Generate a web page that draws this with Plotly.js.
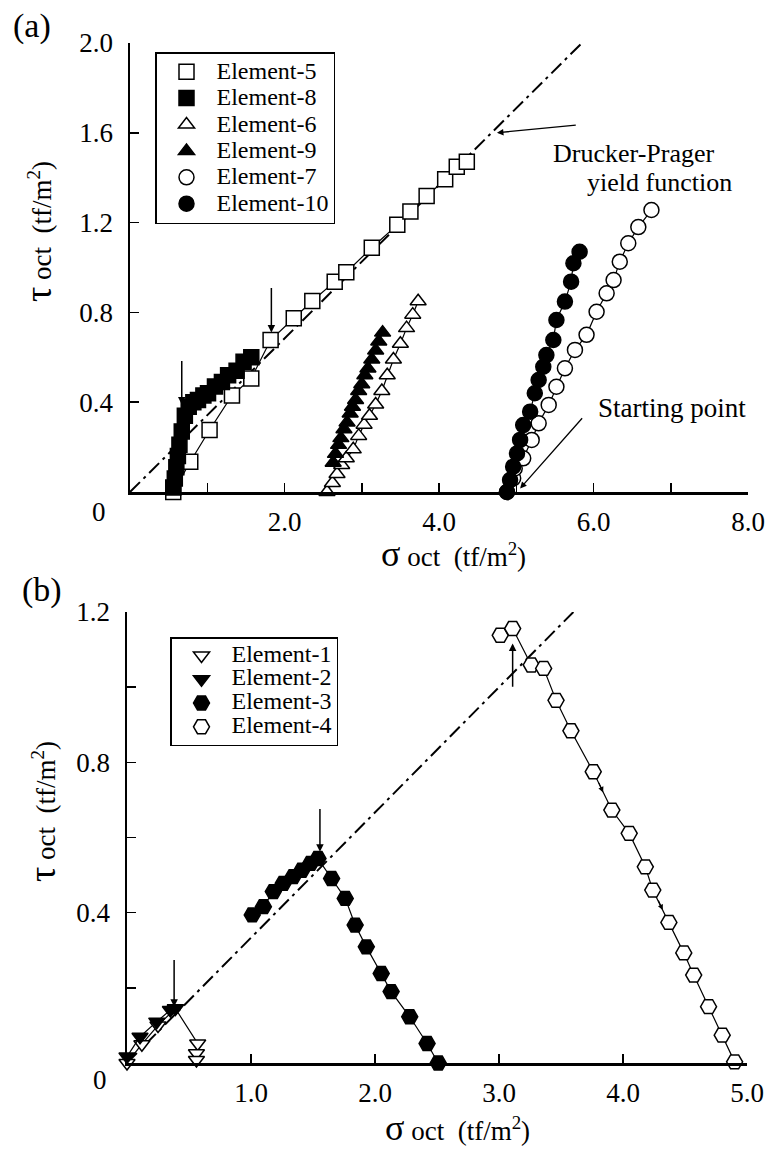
<!DOCTYPE html>
<html><head><meta charset="utf-8">
<script src="https://cdn.plot.ly/plotly-3.0.1.min.js"></script>
<style>html,body{margin:0;padding:0;background:#fff}#chart{width:769px;height:1151px}</style>
</head><body><div id="chart"></div>
<script>
// ---------- Panel (a) data ----------
const e5x = [0.56,0.78,1.03,1.32,1.57,1.82,2.12,2.36,2.65,2.80,3.13,3.46,3.63,3.84,4.08,4.23,4.36];
const e5y = [0.00,0.135,0.276,0.43,0.506,0.677,0.774,0.851,0.937,0.979,1.088,1.19,1.25,1.318,1.393,1.449,1.471];
const e8x = [0.56,0.58,0.60,0.62,0.64,0.67,0.71,0.76,0.82,0.88,0.95,1.01,1.10,1.19,1.27,1.38,1.47,1.57];
const e8y = [0.02,0.06,0.11,0.16,0.21,0.27,0.34,0.38,0.40,0.41,0.43,0.44,0.47,0.49,0.52,0.54,0.58,0.60];
const e6x = [2.55,2.62,2.68,2.74,2.80,2.89,2.96,3.03,3.10,3.18,3.26,3.33,3.41,3.50,3.58,3.66,3.73];
const e6y = [0.00,0.04,0.08,0.12,0.15,0.19,0.25,0.30,0.34,0.39,0.45,0.52,0.59,0.66,0.73,0.79,0.85];
const e9x = [2.63,2.66,2.70,2.73,2.77,2.81,2.85,2.88,2.92,2.96,3.00,3.04,3.08,3.13,3.18,3.22,3.27];
const e9y = [0.13,0.17,0.21,0.24,0.28,0.31,0.35,0.38,0.41,0.45,0.48,0.52,0.55,0.59,0.63,0.67,0.71];
const e7x = [4.88,4.96,4.98,5.09,5.20,5.29,5.42,5.52,5.63,5.76,5.91,6.04,6.17,6.26,6.34,6.45,6.58,6.75];
const e7y = [0.00,0.061,0.105,0.15,0.232,0.306,0.388,0.469,0.551,0.633,0.70,0.803,0.885,0.944,1.026,1.108,1.18,1.256];
const e10x = [4.88,4.92,4.96,5.01,5.05,5.09,5.18,5.24,5.29,5.35,5.39,5.48,5.52,5.63,5.71,5.74,5.82];
const e10y = [0.00,0.053,0.113,0.172,0.232,0.298,0.358,0.44,0.499,0.558,0.61,0.677,0.766,0.848,0.937,1.019,1.07];
const dpAx = [0, 5.85];
const dpAy = [0, 2.0];

// ---------- Panel (b) data ----------
const e1x = [0.00,0.12,0.25,0.39,0.57,0.56,0.56];
const e1y = [0.00,0.05,0.10,0.145,0.052,0.026,0.008];
const e2x = [0.00,0.105,0.24,0.35,0.39];
const e2y = [0.017,0.07,0.11,0.141,0.146];
const e3x = [1.01,1.10,1.18,1.26,1.34,1.41,1.48,1.54,1.65,1.76,1.84,1.93,2.05,2.13,2.28,2.42,2.51];
const e3y = [0.394,0.416,0.456,0.478,0.496,0.513,0.531,0.544,0.491,0.438,0.367,0.309,0.238,0.19,0.123,0.052,0.0];
const e4x = [3.01,3.11,3.26,3.36,3.46,3.58,3.76,3.91,4.05,4.18,4.24,4.37,4.49,4.57,4.69,4.80,4.90];
const e4y = [1.138,1.156,1.059,1.05,0.965,0.884,0.775,0.673,0.611,0.522,0.46,0.374,0.293,0.234,0.15,0.074,0.003];
const dpBx = [0, 3.6];
const dpBy = [0, 1.2];

// ---------- tick labels ----------
const aXticks = [0,1,2,3,4,5,6,7,8];
const aXtext  = ['','','2.0','','4.0','','6.0','','8.0'];
const aYticks = [0,0.4,0.8,1.2,1.6,2.0];
const aYtext  = ['','0.4','0.8','1.2','1.6','2.0'];
const bXticks = [0,1,2,3,4,5];
const bXtext  = ['','1.0','2.0','3.0','4.0','5.0'];
const bYticks = [0,0.2,0.4,0.6,0.8,1.0,1.2];
const bYtext  = ['','','0.4','','0.8','','1.2'];

// ---------- arrows (x, head y, tail y) ----------
const aArrowX = [0.67, 1.83];
const aArrowHead = [0.39, 0.71];
const aArrowTail = [0.59, 0.915];
const bArrowX = [0.38, 1.556, 3.11];
const bArrowHead = [0.15, 0.562, 1.116];
const bArrowTail = [0.278, 0.68, 0.997];
// small direction arrowheads on the Element-4 path (head x, head y)
const dirX = [3.84, 4.32];
const dirY = [0.72, 0.407];

const W = 769, H = 1151;
const px = v => v / W, py = v => 1 - v / H;
const FONT = 'Liberation Serif';
const LEGTXT = 24;

function series(xs, ys, name, symbol, filled, size, xa, ya, leg){
  const line = {x: xs, y: ys, mode: 'lines', xaxis: xa, yaxis: ya, showlegend: false,
    line: {color: '#000', width: 1.2}, hoverinfo: 'skip', cliponaxis: false};
  const mk = {x: xs, y: ys, mode: 'markers', xaxis: xa, yaxis: ya, legend: leg,
    name: '<span style="font-size:' + LEGTXT + 'px">' + name + '</span>',
    cliponaxis: false,
    marker: {symbol: symbol, size: size, color: filled ? '#000' : '#fff',
      line: {color: '#000', width: 1.5}}};
  return [line, mk];
}

const dashStyle = '14px,5px,3px,5px';
const traces = [
  {x: dpAx, y: dpAy, mode: 'lines', xaxis: 'x', yaxis: 'y', showlegend: false,
   line: {color: '#000', width: 2, dash: dashStyle}},
  {x: dpBx, y: dpBy, mode: 'lines', xaxis: 'x2', yaxis: 'y2', showlegend: false,
   line: {color: '#000', width: 2, dash: dashStyle}},
  ...series(e5x, e5y, 'Element-5', 'square', false, 15, 'x', 'y', 'legend'),
  ...series(e8x, e8y, 'Element-8', 'square', true, 15, 'x', 'y', 'legend'),
  ...series(e6x, e6y, 'Element-6', 'triangle-up', false, 14, 'x', 'y', 'legend'),
  ...series(e9x, e9y, 'Element-9', 'triangle-up', true, 14, 'x', 'y', 'legend'),
  ...series(e7x, e7y, 'Element-7', 'circle', false, 15, 'x', 'y', 'legend'),
  ...series(e10x, e10y, 'Element-10', 'circle', true, 15, 'x', 'y', 'legend'),
  ...series(e1x, e1y, 'Element-1', 'triangle-down', false, 14, 'x2', 'y2', 'legend2'),
  ...series(e2x, e2y, 'Element-2', 'triangle-down', true, 14, 'x2', 'y2', 'legend2'),
  ...series(e3x, e3y, 'Element-3', 'hexagon2', true, 16, 'x2', 'y2', 'legend2'),
  ...series(e4x, e4y, 'Element-4', 'hexagon2', false, 16, 'x2', 'y2', 'legend2'),
];

function axis(extra){
  return Object.assign({
    showline: true, linewidth: 2.5, linecolor: '#000', showgrid: false, zeroline: false,
    ticks: 'inside', ticklen: 9, tickwidth: 1.5, tickcolor: '#000', tickmode: 'array',
    tickfont: {family: FONT, size: 27, color: '#000'}, automargin: false, fixedrange: true
  }, extra);
}

const annotations = [];
function arrows(xs, heads, tails, xr, yr){
  xs.forEach((x, i) => annotations.push({
    x: x, y: heads[i], ax: x, ay: tails[i], xref: xr, yref: yr, axref: xr, ayref: yr,
    text: '', showarrow: true, arrowhead: 2, arrowsize: 1, arrowwidth: 1.5, arrowcolor: '#000'
  }));
}
arrows(aArrowX, aArrowHead, aArrowTail, 'x', 'y');
arrows(bArrowX, bArrowHead, bArrowTail, 'x2', 'y2');
dirX.forEach((x, i) => annotations.push({
  x: x, y: dirY[i], ax: -5, ay: -11, xref: 'x2', yref: 'y2',
  text: '', showarrow: true, arrowhead: 2, arrowsize: 0.9, arrowwidth: 1.2, arrowcolor: '#000'
}));

function txt(t, x, y, size, opts){
  annotations.push(Object.assign({text: t, x: px(x), y: py(y), xref: 'paper', yref: 'paper',
    showarrow: false, xanchor: 'center', yanchor: 'middle',
    font: {family: FONT, size: size, color: '#000'}}, opts || {}));
}
txt('(a)', 32, 26, 34);
txt('(b)', 42, 590, 34);
txt('0', 99, 512, 27);
txt('0', 100, 1080, 27);
const yT = '<span style="font-size:38px">τ</span> oct  (tf/m<sup>2</sup>)';
const xT = '<span style="font-size:36px">σ</span> oct  (tf/m<sup>2</sup>)';
txt(yT, 38, 232, 27, {textangle: -90});
txt(yT, 42, 812, 27, {textangle: -90});
txt(xT, 453, 554, 27);
txt(xT, 457, 1128, 27);
txt('Drucker-Prager', 634, 153, 26);
txt('yield function', 659, 182, 26);
txt('Starting point', 672, 408, 27);
// pointer arrows for the text labels
annotations.push({x: 4.75, y: 1.60, ax: 5.79, ay: 1.635, xref: 'x', yref: 'y', axref: 'x', ayref: 'y',
  text: '', showarrow: true, arrowhead: 2, arrowsize: 1, arrowwidth: 1.3, arrowcolor: '#000'});
annotations.push({x: 5.05, y: 0.016, ax: 5.87, ay: 0.335, xref: 'x', yref: 'y', axref: 'x', ayref: 'y',
  text: '', showarrow: true, arrowhead: 2, arrowsize: 1, arrowwidth: 1.3, arrowcolor: '#000'});

const legendBase = {bgcolor: '#fff', bordercolor: '#000', borderwidth: 1.5, xanchor: 'left', yanchor: 'top',
  itemwidth: 50, tracegroupgap: 0, traceorder: 'normal'};

const layout = {
  width: W, height: H, margin: {l: 0, r: 0, t: 0, b: 0},
  paper_bgcolor: '#fff', plot_bgcolor: 'rgba(0,0,0,0)', showlegend: true,
  font: {family: FONT, color: '#000'},
  xaxis: axis({domain: [px(130), px(748)], range: [0, 8], anchor: 'y', tickvals: aXticks, ticktext: aXtext, ticklabelstandoff: 4}),
  yaxis: axis({domain: [py(492), py(43)], range: [0, 2.0], anchor: 'x', tickvals: aYticks, ticktext: aYtext, ticklabelstandoff: 9}),
  xaxis2: axis({domain: [px(127), px(747)], range: [0, 5], anchor: 'y2', tickvals: bXticks, ticktext: bXtext, ticklabelstandoff: 4}),
  yaxis2: axis({domain: [py(1063), py(612)], range: [0, 1.2], anchor: 'x2', tickvals: bYticks, ticktext: bYtext, ticklabelstandoff: 9}),
  legend: Object.assign({}, legendBase, {x: px(155), y: py(52), font: {family: FONT, size: 18, color: '#000'}}),
  legend2: Object.assign({}, legendBase, {x: px(170), y: py(637), font: {family: FONT, size: 16, color: '#000'}}),
  annotations: annotations
};

Plotly.newPlot('chart', traces, layout, {staticPlot: true, displayModeBar: false});
</script></body></html>
